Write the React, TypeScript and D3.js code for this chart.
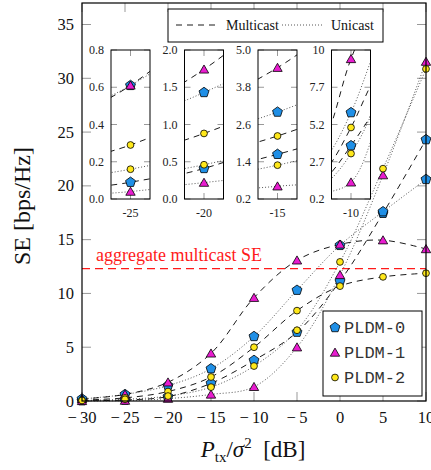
import React from "react";
import * as d3 from "d3";

// Transmit SNR grid [dB]
const snr = [-30, -25, -20, -15, -10, -5, 0, 5, 10];

// Spectral efficiency [bps/Hz] per scheme
const pldm0Multicast = [0.03, 0.09, 0.41, 1.64, 3.78, 6.4, 11.14, 17.45, 24.3];
const pldm0Unicast = [0.19, 0.61, 1.43, 3.0, 6.0, 10.3, 14.47, 17.6, 20.6];
const pldm1Multicast = [0.19, 0.61, 1.74, 4.43, 9.6, 13.08, 14.56, 14.95, 14.13];
const pldm1Unicast = [0.01, 0.04, 0.22, 0.61, 1.32, 5.0, 11.72, 21.0, 31.55];
const pldm2Multicast = [0.09, 0.29, 0.88, 2.23, 5.0, 8.4, 10.68, 11.54, 11.88];
const pldm2Unicast = [0.05, 0.16, 0.46, 1.29, 3.25, 6.58, 12.93, 21.6, 30.87];

const aggregateMulticastSE = 12.3;

const xTicks = [-30, -25, -20, -15, -10, -5, 0, 5, 10];
const yTicks = [0, 5, 10, 15, 20, 25, 30, 35];

const schemeNames = ["PLDM-0", "PLDM-1", "PLDM-2"];

// Zoomed views around selected SNR points
const insetCenters = [-25, -20, -15, -10];
const insetSpans = [0.5, 0.5, 0.5, 4];
const insetYDomains = [
  [0, 0.8],
  [0, 2.0],
  [0.2, 5.0],
  [0.2, 10.2],
];
const insetYTickLabels = [
  ["0.0", "0.2", "0.4", "0.6", "0.8"],
  ["0.0", "0.5", "1.0", "1.5", "2.0"],
  ["0.2", "1.4", "2.6", "3.8", "5.0"],
  ["0.2", "2.7", "5.2", "7.7", "10"],
];
const insetXLabels = ["-25", "-20", "-15", "-10"];

const W = 431;
const H = 470;
const PLOT = { left: 82, right: 426, top: 3, bottom: 401 };
const SERIF = "'Liberation Serif', 'Times New Roman', serif";
const MONO = "'Liberation Mono', 'DejaVu Sans Mono', monospace";

const COLORS = ["#1f8fe6", "#e81ccf", "#ffe81a"];
const SHAPES = ["pentagon", "triangle", "circle"];

type Series = { scheme: number; multicast: boolean; values: number[] };
const series: Series[] = [
  { scheme: 0, multicast: true, values: pldm0Multicast },
  { scheme: 0, multicast: false, values: pldm0Unicast },
  { scheme: 1, multicast: true, values: pldm1Multicast },
  { scheme: 1, multicast: false, values: pldm1Unicast },
  { scheme: 2, multicast: true, values: pldm2Multicast },
  { scheme: 2, multicast: false, values: pldm2Unicast },
];

const pentagonPath = (() => {
  const r = 5.2;
  const pts: [number, number][] = d3.range(5).map((k) => {
    const a = -Math.PI / 2 + (k * 2 * Math.PI) / 5;
    return [r * Math.cos(a), r * Math.sin(a)];
  });
  return d3.line().curve(d3.curveLinearClosed)(pts) as string;
})();
const trianglePath = (() => {
  const r = 5.4;
  const pts: [number, number][] = [0, 1, 2].map((k) => {
    const a = -Math.PI / 2 + (k * 2 * Math.PI) / 3;
    return [r * Math.cos(a), r * Math.sin(a) + 1];
  });
  return d3.line().curve(d3.curveLinearClosed)(pts) as string;
})();

function Marker({ scheme, x, y }: { scheme: number; x: number; y: number }) {
  const common = { fill: COLORS[scheme], stroke: "#000", strokeWidth: 0.8 };
  if (SHAPES[scheme] === "circle") return <circle cx={x} cy={y} r={3.4} {...common} />;
  const d = SHAPES[scheme] === "pentagon" ? pentagonPath : trianglePath;
  return <path d={d} transform={`translate(${x},${y})`} {...common} />;
}

function lineStyle(multicast: boolean) {
  return multicast
    ? { stroke: "#000", strokeWidth: 0.9, strokeDasharray: "6 5", fill: "none" }
    : { stroke: "#444", strokeWidth: 0.9, strokeDasharray: "1 2", fill: "none" };
}

function Inset({ i }: { i: number }) {
  const left = 111 + i * 73.5;
  const top = 50;
  const w = 39;
  const h = 149;
  const c = insetCenters[i];
  const span = insetSpans[i];
  const [d0, d1] = insetYDomains[i];
  const xs = d3.scaleLinear().domain([c - span, c + span]).range([left, left + w]);
  const ys = d3.scaleLinear().domain([d0, d1]).range([top + h, top]);
  const line = d3
    .line<number>()
    .x((_, k) => xs(snr[k]))
    .y((v) => ys(v))
    .curve(d3.curveCatmullRom.alpha(0.5));
  const tickVals = d3.range(5).map((k) => d0 + (k * (d1 - d0)) / 4);
  const ci = snr.indexOf(c);
  const clipId = `inset-clip-${i}`;
  return (
    <g>
      <defs>
        <clipPath id={clipId}>
          <rect x={left} y={top} width={w} height={h} />
        </clipPath>
      </defs>
      <rect x={left} y={top} width={w} height={h} fill="#fff" />
      {tickVals.map((t, k) => (
        <g key={k}>
          <line x1={left} x2={left + 6} y1={ys(t)} y2={ys(t)} stroke="#999" strokeWidth={1} />
          <line x1={left + w - 6} x2={left + w} y1={ys(t)} y2={ys(t)} stroke="#999" strokeWidth={1} />
          <text
            x={left - 7}
            y={ys(t) + 4}
            textAnchor="end"
            fontFamily={SERIF}
            fontSize={12}
            fill="#222"
          >
            {insetYTickLabels[i][k]}
          </text>
        </g>
      ))}
      <line x1={xs(c)} x2={xs(c)} y1={top} y2={top + 6} stroke="#999" strokeWidth={1} />
      <line x1={xs(c)} x2={xs(c)} y1={top + h - 6} y2={top + h} stroke="#999" strokeWidth={1} />
      <g clipPath={`url(#${clipId})`}>
        {series.map((s, k) => (
          <path key={k} d={line(s.values) as string} {...lineStyle(s.multicast)} />
        ))}
        {series.map((s, k) => (
          <Marker key={k} scheme={s.scheme} x={xs(c)} y={ys(s.values[ci])} />
        ))}
      </g>
      <rect x={left} y={top} width={w} height={h} fill="none" stroke="#000" strokeWidth={1} />
      <text
        x={left + w / 2}
        y={top + h + 18}
        textAnchor="middle"
        fontFamily={SERIF}
        fontSize={12}
        fill="#222"
      >
        {insetXLabels[i]}
      </text>
    </g>
  );
}

export default function App() {
  const x = d3.scaleLinear().domain([-30, 10]).range([PLOT.left, PLOT.right]);
  const y = d3.scaleLinear().domain([0, 37]).range([PLOT.bottom, PLOT.top]);
  const line = d3
    .line<number>()
    .x((_, k) => x(snr[k]))
    .y((v) => y(v))
    .curve(d3.curveCatmullRom.alpha(0.5));
  const tickLen = 9;

  return (
    <svg
      width={W}
      height={H}
      viewBox={`0 0 ${W} ${H}`}
      style={{ position: "absolute", left: 0, top: 0, background: "#fff" }}
    >
      <rect width={W} height={H} fill="#fff" />

      {/* ticks on all four sides */}
      {xTicks.map((t) => (
        <g key={`xt${t}`}>
          <line x1={x(t)} x2={x(t)} y1={PLOT.bottom} y2={PLOT.bottom - tickLen} stroke="#999" />
          <line x1={x(t)} x2={x(t)} y1={PLOT.top} y2={PLOT.top + tickLen} stroke="#999" />
          <text
            x={x(t)}
            y={PLOT.bottom + 22}
            textAnchor="middle"
            fontFamily={SERIF}
            fontSize={16.5}
            fill="#111"
          >
            {t < 0 ? `\u2212\u2009${Math.abs(t)}` : `${t}`}
          </text>
        </g>
      ))}
      {yTicks.map((t) => (
        <g key={`yt${t}`}>
          <line x1={PLOT.left} x2={PLOT.left + tickLen} y1={y(t)} y2={y(t)} stroke="#999" />
          <line x1={PLOT.right - tickLen} x2={PLOT.right} y1={y(t)} y2={y(t)} stroke="#999" />
          <text
            x={PLOT.left - 8}
            y={y(t) + 5.5}
            textAnchor="end"
            fontFamily={SERIF}
            fontSize={16.5}
            fill="#111"
          >
            {t}
          </text>
        </g>
      ))}

      {/* aggregate multicast reference */}
      <line
        x1={PLOT.left}
        x2={PLOT.right}
        y1={y(aggregateMulticastSE)}
        y2={y(aggregateMulticastSE)}
        stroke="#ff1a1a"
        strokeWidth={1.2}
        strokeDasharray="8 5"
      />
      <text x={96} y={y(aggregateMulticastSE) - 8} fontFamily={SERIF} fontSize={18} fill="#ff1a1a">
        aggregate multicast SE
      </text>

      {/* curves */}
      {series.map((s, k) => (
        <path key={k} d={line(s.values) as string} {...lineStyle(s.multicast)} />
      ))}
      {series.map((s, k) => (
        <g key={k}>
          {s.values.map((v, j) => (
            <Marker key={j} scheme={s.scheme} x={x(snr[j])} y={y(v)} />
          ))}
        </g>
      ))}

      {/* line-style legend */}
      <g>
        <rect x={168} y={9} width={215} height={33} fill="#fff" stroke="#000" strokeWidth={1} />
        <line x1={176} x2={216} y1={25} y2={25} {...lineStyle(true)} />
        <text x={226} y={30} fontFamily={SERIF} fontSize={14} fill="#111">
          Multicast
        </text>
        <line x1={282} x2={324} y1={25} y2={25} {...lineStyle(false)} />
        <text x={331} y={30} fontFamily={SERIF} fontSize={14} fill="#111">
          Unicast
        </text>
      </g>

      {insetCenters.map((_, i) => (
        <Inset key={i} i={i} />
      ))}

      {/* scheme legend */}
      <g>
        <rect x={323} y={311} width={99} height={85} fill="#fff" stroke="#000" strokeWidth={1} />
        {schemeNames.map((name, k) => (
          <g key={name}>
            <Marker scheme={k} x={335} y={327.5 + k * 25} />
            <text x={344} y={333 + k * 25} fontFamily={MONO} fontSize={17} fill="#333">
              {name}
            </text>
          </g>
        ))}
      </g>

      {/* frame */}
      <rect
        x={PLOT.left}
        y={PLOT.top}
        width={PLOT.right - PLOT.left}
        height={PLOT.bottom - PLOT.top}
        fill="none"
        stroke="#000"
        strokeWidth={1.2}
      />

      {/* axis titles */}
      <text
        transform={`translate(30,${206}) rotate(-90)`}
        textAnchor="middle"
        fontFamily={SERIF}
        fontSize={24}
        fill="#111"
      >
        SE [bps/Hz]
      </text>
      <text x={253} y={457} textAnchor="middle" fontFamily={SERIF} fontSize={23} fill="#111">
        <tspan fontStyle="italic">P</tspan>
        <tspan fontSize={15} dy={5}>
          tx
        </tspan>
        <tspan dy={-5}>/</tspan>
        <tspan fontStyle="italic">σ</tspan>
        <tspan fontSize={15} dy={-9}>
          2
        </tspan>
        <tspan dy={9}>{"\u00a0\u00a0[dB]"}</tspan>
      </text>
    </svg>
  );
}
